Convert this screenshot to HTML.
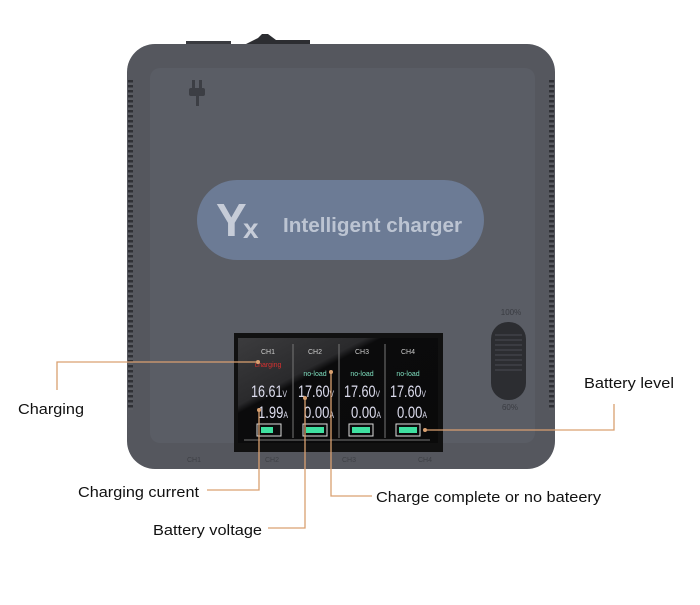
<!DOCTYPE html>
<html><head><meta charset="utf-8"><style>
body{margin:0;background:#fff;width:700px;height:600px;overflow:hidden;font-family:"Liberation Sans",sans-serif}
</style></head><body>
<svg width="700" height="600" viewBox="0 0 700 600" xmlns="http://www.w3.org/2000/svg" font-family="Liberation Sans, sans-serif">
<defs>
<linearGradient id="scr" x1="0" y1="0" x2="1" y2="1">
<stop offset="0" stop-color="#3c3c3e"/><stop offset="0.32" stop-color="#2a2a2c"/><stop offset="0.36" stop-color="#0b0b0c"/><stop offset="1" stop-color="#0a0a0a"/>
</linearGradient>
<pattern id="vent" width="6" height="5" patternUnits="userSpaceOnUse"><rect width="6" height="5" fill="#5a5c62"/><rect y="0" width="6" height="2.5" fill="#2f3035"/></pattern>
</defs>
<rect x="186" y="41" width="45" height="5" fill="#3a3b40"/>
<path d="M246 44 L258 38 L262 34 L268 34 L276 40 L310 40 L310 46 L246 46Z" fill="#2c2d31"/>
<rect x="127" y="44" width="428" height="425" rx="28" fill="#55575e"/>
<rect x="128" y="80" width="5" height="330" fill="url(#vent)"/>
<rect x="549" y="80" width="5" height="330" fill="url(#vent)"/>
<rect x="150" y="68" width="385" height="375" rx="10" fill="#5a5d65"/>
<g fill="#3c3e44"><rect x="192" y="80" width="3" height="8"/><rect x="199" y="80" width="3" height="8"/><rect x="189" y="88" width="16" height="8" rx="2"/><rect x="196" y="96" width="3" height="10"/></g>
<rect x="197" y="180" width="287" height="80" rx="40" fill="#6c7b95"/>
<text x="216" y="236" font-size="46" font-weight="bold" fill="#c6ccd8">Y</text>
<text x="243" y="238" font-size="28" font-weight="bold" fill="#c6ccd8">x</text>
<text x="283" y="232" font-size="20" font-weight="bold" fill="#bcc4d2" textLength="179" lengthAdjust="spacingAndGlyphs">Intelligent charger</text>
<text x="511" y="315" font-size="8" fill="#3a3c42" text-anchor="middle">100%</text>
<rect x="491" y="322" width="35" height="78" rx="17" fill="#2c2d31"/>
<g stroke="#4a4c52" stroke-width="1">
<line x1="495" y1="335" x2="522" y2="335"/><line x1="495" y1="340" x2="522" y2="340"/><line x1="495" y1="345" x2="522" y2="345"/><line x1="495" y1="350" x2="522" y2="350"/><line x1="495" y1="355" x2="522" y2="355"/><line x1="495" y1="360" x2="522" y2="360"/><line x1="495" y1="365" x2="522" y2="365"/><line x1="495" y1="370" x2="522" y2="370"/></g>
<text x="510" y="410" font-size="8" fill="#3a3c42" text-anchor="middle">60%</text>
<rect x="234" y="333" width="209" height="119" fill="#111"/>
<rect x="238" y="338" width="200" height="105" fill="url(#scr)"/>
<g stroke="#777" stroke-width="1"><line x1="293" y1="344" x2="293" y2="438"/><line x1="339" y1="344" x2="339" y2="438"/><line x1="385" y1="344" x2="385" y2="438"/><line x1="244" y1="440" x2="430" y2="440"/></g>
<g font-size="7" fill="#ccc" text-anchor="middle"><text x="268" y="354">CH1</text><text x="315" y="354">CH2</text><text x="362" y="354">CH3</text><text x="408" y="354">CH4</text></g>
<text x="268" y="367" font-size="7" fill="#d83030" text-anchor="middle">charging</text>
<g font-size="7" fill="#7fe0c0" text-anchor="middle"><text x="315" y="376">no-load</text><text x="362" y="376">no-load</text><text x="408" y="376">no-load</text></g>
<g font-size="17" fill="#dde">
<text x="251" y="397" textLength="36" lengthAdjust="spacingAndGlyphs">16.61<tspan font-size="9">V</tspan></text>
<text x="298" y="397" textLength="36" lengthAdjust="spacingAndGlyphs">17.60<tspan font-size="9">V</tspan></text>
<text x="344" y="397" textLength="36" lengthAdjust="spacingAndGlyphs">17.60<tspan font-size="9">V</tspan></text>
<text x="390" y="397" textLength="36" lengthAdjust="spacingAndGlyphs">17.60<tspan font-size="9">V</tspan></text>
<text x="258" y="418" textLength="30" lengthAdjust="spacingAndGlyphs">1.99<tspan font-size="9">A</tspan></text>
<text x="304" y="418" textLength="30" lengthAdjust="spacingAndGlyphs">0.00<tspan font-size="9">A</tspan></text>
<text x="351" y="418" textLength="30" lengthAdjust="spacingAndGlyphs">0.00<tspan font-size="9">A</tspan></text>
<text x="397" y="418" textLength="30" lengthAdjust="spacingAndGlyphs">0.00<tspan font-size="9">A</tspan></text></g>
<g fill="none" stroke="#ddd" stroke-width="1"><rect x="257" y="424" width="24" height="12"/><rect x="303" y="424" width="24" height="12"/><rect x="349" y="424" width="24" height="12"/><rect x="396" y="424" width="24" height="12"/></g>
<g fill="#3fe0a0"><rect x="261" y="427" width="12" height="6"/><rect x="306" y="427" width="18" height="6"/><rect x="352" y="427" width="18" height="6"/><rect x="399" y="427" width="18" height="6"/></g>
<g font-size="7" fill="#3e4046"><text x="187" y="462">CH1</text><text x="265" y="462">CH2</text><text x="342" y="462">CH3</text><text x="418" y="462">CH4</text></g>
<g stroke="#d9a070" stroke-width="1.3" fill="none">
<polyline points="57,390 57,362 258,362"/>
<polyline points="207,490 259,490 259,410"/>
<polyline points="268,528 305,528 305,398"/>
<polyline points="372,496 331,496 331,372"/>
<polyline points="425,430 614,430 614,404"/>
</g>
<g fill="#d9a070"><circle cx="258" cy="362" r="2"/><circle cx="259" cy="410" r="2"/><circle cx="305" cy="398" r="2"/><circle cx="331" cy="372" r="2"/><circle cx="425" cy="430" r="2"/></g>
<g font-size="15" fill="#111"><text x="18" y="414" textLength="66" lengthAdjust="spacingAndGlyphs">Charging</text><text x="78" y="497" textLength="121" lengthAdjust="spacingAndGlyphs">Charging current</text><text x="153" y="535" textLength="109" lengthAdjust="spacingAndGlyphs">Battery voltage</text><text x="376" y="502" textLength="225" lengthAdjust="spacingAndGlyphs">Charge complete or no bateery</text><text x="584" y="388" textLength="90" lengthAdjust="spacingAndGlyphs">Battery level</text></g>
</svg>
</body></html>
